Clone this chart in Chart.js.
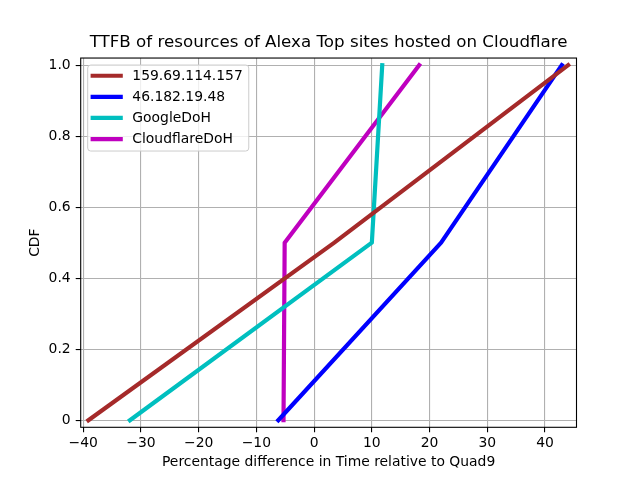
<!DOCTYPE html>
<html>
<head>
<meta charset="utf-8">
<script src="https://cdn.jsdelivr.net/npm/chart.js@4/dist/chart.umd.min.js"></script>
<style>
  html, body { margin: 0; padding: 0; background: #fff; }
  #c { display: block; }
</style>
</head>
<body>
<canvas id="c" width="640" height="480"></canvas>
<script>
// ---- data ----
const cdfLevels = [0, 0.5, 1.0];
const seriesNames = ['159.69.114.157', '46.182.19.48', 'GoogleDoH', 'CloudflareDoH'];
const values159 = [-39.1, 3.5, 44.0];
const values46 = [-6.2, 22.0, 42.9];
const valuesGoogleDoH = [-31.9, 10.0, 11.8];
const valuesCloudflareDoH = [-5.3, -5.1, 18.2];
const xTicks = [-40, -30, -20, -10, 0, 10, 20, 30, 40];
const yTicks = [0.0, 0.2, 0.4, 0.6, 0.8, 1.0];

const seriesValues = [values159, values46, valuesGoogleDoH, valuesCloudflareDoH];
const seriesColors = ['#a52a2a', '#0000ff', '#00bfbf', '#bf00bf'];

const FONT = "'DejaVu Sans', 'Liberation Sans', sans-serif";

const datasets = seriesNames.map((name, i) => ({
  label: name,
  data: seriesValues[i].map((v, j) => ({ x: v, y: cdfLevels[j] })),
  borderColor: seriesColors[i],
  backgroundColor: seriesColors[i],
  borderWidth: 4.2,
  borderCapStyle: 'square',
  borderJoinStyle: 'round',
  pointRadius: 0,
  pointHoverRadius: 0,
  fill: false,
  tension: 0
}));

const fmt = v => {
  const s = (Math.abs(v) < 1e-9 ? 0 : v);
  return String(s).replace('-', '\u2212');
};

const frameAndLegend = {
  id: 'frameAndLegend',
  afterDatasetsDraw(chart) {
    const { ctx, chartArea: a } = chart;
    ctx.save();
    // axes frame (spines)
    ctx.strokeStyle = '#000';
    ctx.lineWidth = 1.1;
    ctx.strokeRect(a.left, a.top, a.right - a.left, a.bottom - a.top);

    // legend
    ctx.font = '13.9px ' + FONT;
    const names = chart.data.datasets.map(d => d.label);
    const maxW = Math.max(...names.map(n => ctx.measureText(n).width));
    const bx = a.left + 7, by = a.top + 7;
    const bw = 44.6 + maxW + 6, bh = 86;
    const r = 3;
    ctx.beginPath();
    ctx.moveTo(bx + r, by);
    ctx.lineTo(bx + bw - r, by);
    ctx.arcTo(bx + bw, by, bx + bw, by + r, r);
    ctx.lineTo(bx + bw, by + bh - r);
    ctx.arcTo(bx + bw, by + bh, bx + bw - r, by + bh, r);
    ctx.lineTo(bx + r, by + bh);
    ctx.arcTo(bx, by + bh, bx, by + bh - r, r);
    ctx.lineTo(bx, by + r);
    ctx.arcTo(bx, by, bx + r, by, r);
    ctx.closePath();
    ctx.fillStyle = 'rgba(255,255,255,0.8)';
    ctx.fill();
    ctx.strokeStyle = '#cccccc';
    ctx.lineWidth = 1;
    ctx.stroke();

    chart.data.datasets.forEach((d, i) => {
      const yy = by + 10.7 + i * 21.1;
      ctx.beginPath();
      ctx.moveTo(bx + 5, yy);
      ctx.lineTo(bx + 33, yy);
      ctx.strokeStyle = d.borderColor;
      ctx.lineWidth = 4.2;
      ctx.lineCap = 'square';
      ctx.stroke();
      ctx.fillStyle = '#000';
      ctx.textBaseline = 'middle';
      ctx.textAlign = 'left';
      ctx.fillText(d.label, bx + 44.6, yy + 0.5);
    });
    ctx.restore();
  }
};

new Chart(document.getElementById('c'), {
  type: 'line',
  data: { datasets },
  plugins: [frameAndLegend],
  options: {
    responsive: false,
    animation: false,
    devicePixelRatio: 1,
    layout: { padding: { left: 0, right: 63.5, top: 0, bottom: 0 } },
    plugins: {
      legend: { display: false },
      tooltip: { enabled: false },
      title: {
        display: true,
        fullSize: false,
        text: 'TTFB of resources of Alexa Top sites hosted on Cloudflare',
        color: '#000',
        font: { family: FONT, size: 16.7, weight: 'normal' },
        padding: { top: 33, bottom: 5 }
      }
    },
    scales: {
      x: {
        type: 'linear',
        position: 'bottom',
        min: -40.43,
        max: 45.45,
        afterBuildTicks: s => { s.ticks = xTicks.map(v => ({ value: v })); },
        afterFit: s => { s.height = 52.7; },
        border: { display: false },
        grid: {
          color: '#b0b0b0',
          lineWidth: 1.1,
          drawTicks: true,
          tickLength: 5,
          tickColor: '#000',
          tickWidth: 1.1
        },
        ticks: {
          color: '#000',
          font: { family: FONT, size: 13.9 },
          padding: 3,
          maxRotation: 0,
          autoSkip: false,
          callback: v => fmt(v)
        },
        title: {
          display: true,
          text: 'Percentage difference in Time relative to Quad9',
          color: '#000',
          font: { family: FONT, size: 13.9 },
          padding: { top: 0, bottom: 9.7 }
        }
      },
      y: {
        type: 'linear',
        position: 'left',
        min: -0.02,
        max: 1.02,
        afterBuildTicks: s => { s.ticks = yTicks.map(v => ({ value: v })); },
        afterFit: s => { s.width = 80.7; },
        border: { display: false },
        grid: {
          color: '#b0b0b0',
          lineWidth: 1.1,
          drawTicks: true,
          tickLength: 5,
          tickColor: '#000',
          tickWidth: 1.1
        },
        ticks: {
          color: '#000',
          font: { family: FONT, size: 13.9 },
          padding: 5,
          autoSkip: false,
          callback: v => fmt(Number(v).toFixed(1))
        },
        title: {
          display: true,
          text: 'CDF',
          color: '#000',
          font: { family: FONT, size: 13.9 },
          padding: { top: 26.7, bottom: 0 }
        }
      }
    }
  }
});
</script>
</body>
</html>
